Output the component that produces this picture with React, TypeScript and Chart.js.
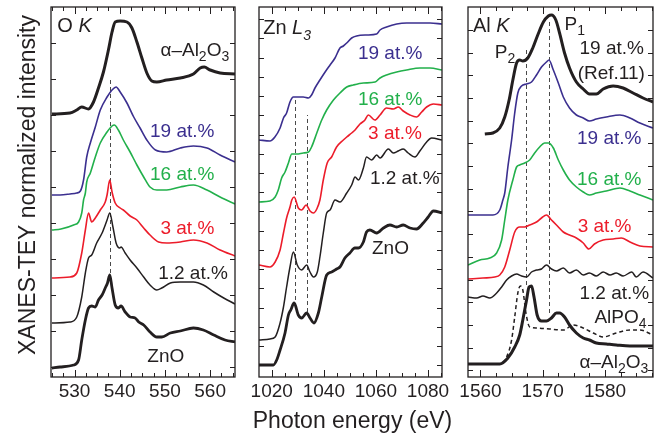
import React, { useEffect, useRef } from 'react';
import { Chart, registerables } from 'chart.js';

Chart.register(...registerables);

type P = [number, number][];

// ---------- O K edge (photon energy eV, normalized intensity + offset) ----------
const oK_Al2O3: P = [[525.0,26.3],[529.0,26.4],[530.5,26.7],[531.6,27.0],[533.1,26.8],[534.2,27.5],[535.3,28.9],[536.4,30.5],[537.5,32.7],[538.3,34.5],[539.0,35.5],[540.1,35.6],[541.6,35.5],[542.7,34.9],[543.8,33.5],[544.9,31.9],[546.0,30.4],[547.1,29.6],[548.2,29.5],[550.4,29.7],[553.4,29.9],[556.3,30.3],[557.8,30.9],[558.7,31.0],[560.0,30.7],[562.2,30.4],[565.5,30.3]];
const oK_19: P = [[525.0,18.2],[526.8,18.2],[529.0,18.3],[530.5,18.4],[531.3,18.6],[532.0,19.7],[532.7,22.0],[533.5,23.4],[534.6,25.0],[535.7,26.7],[537.2,28.0],[538.3,28.7],[539.2,29.0],[540.1,28.5],[541.6,27.4],[543.1,26.0],[544.5,24.9],[546.0,23.7],[547.9,22.7],[550.4,22.5],[553.4,22.9],[556.3,23.1],[559.3,22.9],[562.2,22.2],[565.5,21.5]];
const oK_16: P = [[525.0,14.7],[527.0,14.8],[529.8,15.2],[530.9,15.5],[531.6,16.4],[532.0,17.7],[532.4,18.4],[532.7,19.5],[533.5,20.4],[534.6,22.0],[535.7,23.4],[537.2,24.5],[538.3,25.1],[538.8,25.2],[539.7,24.7],[540.8,23.7],[542.3,22.5],[543.8,21.2],[545.3,20.0],[546.7,19.0],[548.2,18.7],[550.4,18.7],[553.4,19.0],[556.3,19.2],[559.3,18.7],[562.2,18.0],[565.5,17.3]];
const oK_3: P = [[525.0,9.9],[529.0,10.0],[530.5,10.4],[531.6,12.4],[532.4,14.7],[533.1,16.4],[533.8,15.5],[534.6,15.9],[535.7,16.7],[536.8,17.5],[537.2,18.2],[537.8,19.7],[538.3,18.5],[539.0,17.4],[540.1,16.9],[540.8,16.7],[542.3,16.1],[543.8,15.7],[545.3,14.9],[546.7,14.2],[548.6,13.5],[550.4,13.4],[553.4,13.5],[556.3,13.7],[559.3,13.4],[562.2,12.7],[565.5,12.1]];
const oK_1p2: P = [[525.0,5.4],[529.0,5.5],[530.5,6.0],[531.6,8.0],[532.4,10.4],[533.1,11.9],[533.8,12.2],[534.9,13.4],[536.1,14.4],[537.2,15.7],[537.8,16.4],[538.5,15.0],[539.2,13.4],[540.0,12.9],[540.3,13.0],[541.2,12.4],[542.3,11.7],[543.8,10.9],[545.3,10.0],[546.7,9.2],[548.2,8.7],[549.3,8.9],[551.2,9.4],[553.4,9.5],[556.3,9.5],[558.5,9.2],[560.8,8.5],[563.0,7.9],[565.5,7.3]];
const oK_ZnO: P = [[525.0,0.9],[526.8,1.0],[529.8,1.2],[530.9,1.7],[531.6,3.7],[532.4,5.7],[533.1,6.9],[533.8,7.1],[534.6,7.0],[535.3,7.7],[536.1,8.2],[536.8,8.9],[537.3,9.4],[537.8,10.2],[538.3,8.9],[539.0,7.2],[539.7,6.9],[540.3,7.1],[541.2,6.5],[542.3,6.0],[543.4,5.9],[544.2,5.5],[545.3,5.2],[546.7,4.5],[548.2,4.0],[549.3,4.0],[551.2,4.4],[553.4,4.6],[556.3,4.9],[558.5,4.7],[560.8,4.2],[563.3,3.7],[565.5,3.5]];

// ---------- Zn L3 edge ----------
const zn_19: P = [[1015.1,23.7],[1019.3,23.6],[1021.2,24.0],[1023.2,24.9],[1024.5,25.9],[1025.7,26.4],[1027.0,27.5],[1028.3,28.0],[1030.2,28.0],[1032.1,28.0],[1034.1,27.9],[1035.3,28.2],[1036.6,28.9],[1038.5,29.7],[1040.5,30.5],[1042.4,31.2],[1044.3,31.9],[1046.2,32.9],[1047.5,33.1],[1048.8,33.4],[1050.7,33.9],[1052.6,34.1],[1056.4,34.2],[1060.3,34.3],[1061.6,34.7],[1064.1,35.0],[1068.0,35.3],[1071.8,35.4],[1076.9,35.4],[1080.8,35.4],[1085.4,35.3]];
const zn_16: P = [[1015.1,17.5],[1019.3,17.6],[1021.3,18.0],[1022.5,18.7],[1023.8,19.9],[1025.1,20.5],[1026.4,21.4],[1027.7,22.3],[1029.6,22.3],[1032.1,22.4],[1034.1,22.5],[1035.3,23.0],[1037.3,24.4],[1039.2,25.7],[1041.1,26.7],[1043.7,27.7],[1046.2,28.4],[1048.8,29.0],[1051.3,29.2],[1055.2,29.4],[1059.7,29.5],[1061.6,29.9],[1064.1,30.2],[1068.0,30.5],[1071.8,30.7],[1076.9,30.9],[1080.8,30.9],[1085.4,30.7]];
const zn_3: P = [[1015.1,11.2],[1019.3,11.0],[1021.3,11.5],[1023.2,12.7],[1024.5,14.4],[1025.7,15.9],[1027.0,17.0],[1027.7,17.7],[1028.6,18.0],[1030.2,16.9],[1031.5,16.7],[1033.2,17.2],[1034.7,16.6],[1036.0,16.4],[1037.3,16.8],[1038.5,17.7],[1039.8,19.7],[1041.3,21.4],[1043.0,22.0],[1044.9,23.0],[1047.5,23.7],[1048.8,24.0],[1050.7,24.4],[1052.0,24.7],[1053.9,25.3],[1055.8,25.7],[1057.1,26.2],[1059.6,25.7],[1061.6,26.2],[1064.1,26.9],[1066.7,26.8],[1068.6,27.0],[1070.5,26.6],[1073.1,26.2],[1075.6,26.0],[1077.6,26.5],[1079.5,27.0],[1082.1,27.3],[1085.4,27.2]];
const zn_1p2: P = [[1015.1,3.7],[1019.3,3.8],[1021.3,4.0],[1023.2,5.4],[1024.5,7.0],[1025.7,9.0],[1027.0,11.0],[1028.3,12.5],[1029.8,11.2],[1031.5,10.7],[1033.4,11.2],[1034.7,10.5],[1036.0,10.0],[1037.5,10.5],[1038.5,12.0],[1039.8,14.4],[1041.1,16.4],[1042.4,16.7],[1044.3,17.7],[1046.2,17.5],[1048.8,18.4],[1050.7,19.2],[1052.0,20.0],[1053.3,19.7],[1055.2,20.9],[1056.4,22.0],[1058.4,21.7],[1060.3,22.2],[1061.6,21.9],[1064.8,22.8],[1066.7,22.4],[1068.6,22.6],[1070.5,22.8],[1072.4,22.4],[1075.0,22.0],[1076.9,22.6],[1079.5,23.5],[1081.4,23.9],[1085.4,23.7]];
const zn_ZnO: P = [[1015.1,1.2],[1020.6,1.2],[1021.9,1.7],[1023.2,2.7],[1025.1,4.4],[1026.4,6.2],[1027.3,6.7],[1028.6,7.4],[1030.2,6.2],[1031.5,5.9],[1033.4,6.4],[1034.7,5.9],[1036.2,5.4],[1037.9,6.4],[1039.2,8.0],[1041.1,10.2],[1043.0,10.5],[1044.9,10.8],[1046.2,11.0],[1048.1,11.9],[1050.0,12.4],[1051.9,12.9],[1053.3,12.9],[1055.2,13.5],[1056.4,14.5],[1057.7,14.7],[1060.3,14.4],[1062.9,14.9],[1065.4,15.2],[1068.0,15.0],[1070.5,15.2],[1073.1,14.9],[1075.6,14.8],[1078.2,15.4],[1080.1,16.0],[1082.1,16.6],[1085.4,16.4]];

// ---------- Al K edge ----------
const al_ref: P = [[1560.7,24.3],[1562.0,24.4],[1563.1,24.9],[1563.9,26.0],[1564.6,27.7],[1565.2,29.7],[1565.8,31.4],[1566.3,31.7],[1566.8,31.6],[1567.6,31.9],[1568.4,32.9],[1569.2,34.2],[1570.1,35.5],[1570.9,36.1],[1571.4,36.2],[1572.1,35.7],[1572.7,34.4],[1573.5,32.4],[1574.3,30.9],[1575.4,29.5],[1576.5,28.8],[1577.5,28.3],[1578.6,28.3],[1579.7,28.8],[1581.3,29.1],[1582.9,28.9],[1584.5,28.4],[1586.1,27.9],[1587.7,27.5]];
const al_19: P = [[1558.0,16.2],[1560.4,16.2],[1562.0,16.2],[1563.1,16.7],[1563.6,17.7],[1563.9,18.4],[1564.4,21.0],[1565.0,23.7],[1565.5,26.4],[1566.0,28.4],[1566.6,29.1],[1567.4,29.3],[1568.2,29.5],[1569.0,30.2],[1569.8,31.0],[1570.6,31.5],[1571.0,31.7],[1571.7,30.7],[1572.5,29.4],[1573.3,28.0],[1574.3,26.9],[1575.4,26.2],[1576.5,25.9],[1577.5,25.6],[1578.6,25.8],[1580.2,26.0],[1582.4,26.2],[1584.0,25.9],[1585.6,25.4],[1587.7,24.9]];
const al_16: P = [[1558.0,11.2],[1559.9,11.7],[1561.5,11.9],[1562.6,12.4],[1563.4,13.7],[1563.9,15.7],[1564.4,17.7],[1565.2,19.7],[1565.8,21.0],[1566.3,21.2],[1567.1,21.4],[1567.9,21.7],[1568.7,22.4],[1569.5,23.0],[1570.3,23.4],[1570.9,23.4],[1571.7,22.9],[1572.5,21.7],[1573.3,20.7],[1574.3,19.7],[1575.4,19.0],[1576.5,18.5],[1577.5,18.2],[1578.6,18.4],[1580.2,18.6],[1582.4,18.9],[1584.0,18.6],[1585.6,18.2],[1587.7,17.7]];
const al_3: P = [[1558.0,9.8],[1560.4,9.9],[1562.3,10.0],[1563.1,10.2],[1563.9,11.0],[1564.7,12.7],[1565.5,14.5],[1566.3,15.0],[1567.1,15.0],[1567.9,15.2],[1569.0,15.5],[1569.8,15.9],[1570.6,16.2],[1571.4,15.7],[1572.2,15.2],[1573.3,14.5],[1574.3,14.2],[1575.4,13.9],[1576.5,13.4],[1577.4,12.8],[1578.3,13.3],[1579.7,13.7],[1581.3,13.8],[1582.6,13.9],[1584.0,13.5],[1585.6,13.1],[1587.7,13.0]];
const al_1p2: P = [[1558.0,8.0],[1559.4,7.9],[1560.4,8.1],[1561.5,7.9],[1562.6,8.4],[1563.4,9.0],[1564.2,9.7],[1565.0,10.1],[1565.8,10.3],[1566.6,10.1],[1567.4,10.0],[1568.2,10.5],[1569.0,10.7],[1569.8,10.8],[1570.6,11.2],[1571.4,10.8],[1572.2,10.6],[1573.3,10.9],[1574.3,10.4],[1575.4,10.7],[1576.5,10.2],[1577.5,10.4],[1578.6,10.1],[1579.7,10.5],[1580.8,10.2],[1581.8,10.4],[1582.9,10.1],[1584.3,10.5],[1585.0,10.0],[1586.1,10.5],[1587.7,9.9]];
const al_AlPO4: P = [[1558.0,1.3],[1563.1,1.3],[1564.2,2.0],[1565.0,3.7],[1565.5,6.0],[1566.0,8.4],[1566.4,9.1],[1566.8,8.7],[1567.3,6.4],[1567.9,5.0],[1569.0,4.9],[1571.1,4.8],[1573.3,4.7],[1574.9,5.2],[1576.5,4.9],[1578.1,4.4],[1579.7,4.0],[1581.8,4.4],[1584.0,4.7],[1585.6,4.7],[1587.7,4.2]];
const al_Al2O3: P = [[1558.0,1.3],[1563.1,1.3],[1564.4,1.9],[1565.5,3.0],[1566.3,4.2],[1566.8,5.7],[1567.4,7.7],[1567.8,9.0],[1568.2,9.1],[1568.6,8.0],[1569.1,6.2],[1569.8,5.6],[1570.6,5.6],[1571.4,5.9],[1572.2,6.4],[1572.7,6.4],[1573.5,6.0],[1574.3,5.2],[1575.4,4.4],[1576.5,3.9],[1577.5,3.7],[1578.6,3.4],[1580.2,3.3],[1581.8,3.2],[1584.0,3.1],[1586.1,3.1],[1587.7,3.1]];

// ---------- axis ticks ----------
const oK_ticks = [530, 540, 550, 560];
const zn_ticks = [1020, 1040, 1060, 1080];
const al_ticks = [1560, 1570, 1580];

const FONT = "'Liberation Sans', Arial, Helvetica, sans-serif";
const INK = '#231f20';
const PURPLE = '#3b2f8f';
const GREEN = '#22b04b';
const RED = '#ec1c2a';
const W = 662;
const H = 437;
const Y_MAX = 37;

type Seg = { t: string; sub?: boolean; it?: boolean };
type Label = { x: number; y: number; segs: Seg[]; color: string; size?: number };
type Series = { pts: P; color: string; width: number; dash?: number[] };
type PanelCfg = {
  left: number; right: number; xmin: number; xmax: number;
  major: number[]; minorStep: number; yTickStart: number; yTickStep: number;
  series: Series[]; vlines: { x: number; y0: number; y1: number }[];
  labels: Label[]; extra?: (ctx: CanvasRenderingContext2D, area: any) => void;
};

const s = (t: string): Seg => ({ t });
const sub = (t: string): Seg => ({ t, sub: true });
const it = (t: string): Seg => ({ t, it: true });

function drawRich(ctx: CanvasRenderingContext2D, x: number, yMid: number, segs: Seg[], color: string, size: number) {
  let cx = x;
  const base = yMid + size * 0.358;
  ctx.fillStyle = color;
  ctx.textBaseline = 'alphabetic';
  ctx.textAlign = 'left';
  for (const g of segs) {
    const fs = g.sub ? Math.round(size * 0.72) : size;
    ctx.font = `${g.it ? 'italic ' : ''}${fs}px ${FONT}`;
    ctx.fillText(g.t, cx, g.sub ? base + size * 0.28 : base);
    cx += ctx.measureText(g.t).width;
  }
}

function makePlugin(cfg: PanelCfg) {
  return {
    id: 'panelDeco',
    beforeDatasetsDraw(chart: any) {
      const ctx: CanvasRenderingContext2D = chart.ctx;
      const xs = chart.scales.x, ys = chart.scales.y;
      ctx.save();
      ctx.strokeStyle = '#4a4a4a';
      ctx.lineWidth = 1;
      ctx.setLineDash([4, 3]);
      for (const v of cfg.vlines) {
        const px = Math.round(xs.getPixelForValue(v.x)) + 0.5;
        ctx.beginPath();
        ctx.moveTo(px, ys.getPixelForValue(v.y0));
        ctx.lineTo(px, ys.getPixelForValue(v.y1));
        ctx.stroke();
      }
      ctx.restore();
    },
    afterDraw(chart: any) {
      const ctx: CanvasRenderingContext2D = chart.ctx;
      const a = chart.chartArea;
      const xs = chart.scales.x, ys = chart.scales.y;
      ctx.save();
      ctx.strokeStyle = INK;
      ctx.lineWidth = 1.3;
      ctx.setLineDash([]);
      ctx.strokeRect(a.left, a.top, a.right - a.left, a.bottom - a.top);
      ctx.lineWidth = 1;
      ctx.beginPath();
      const first = Math.ceil(cfg.xmin / cfg.minorStep) * cfg.minorStep;
      for (let v = first; v <= cfg.xmax + 1e-9; v += cfg.minorStep) {
        const px = Math.round(xs.getPixelForValue(v)) + 0.5;
        const len = cfg.major.some((m) => Math.abs(m - v) < 1e-6) ? 7 : 4;
        ctx.moveTo(px, a.bottom); ctx.lineTo(px, a.bottom - len);
        ctx.moveTo(px, a.top); ctx.lineTo(px, a.top + len);
      }
      for (let v = cfg.yTickStart; v < Y_MAX - 0.3; v += cfg.yTickStep) {
        const py = Math.round(ys.getPixelForValue(v)) + 0.5;
        ctx.moveTo(a.left, py); ctx.lineTo(a.left + 5, py);
        ctx.moveTo(a.right, py); ctx.lineTo(a.right - 5, py);
      }
      ctx.stroke();
      for (const l of cfg.labels) {
        drawRich(ctx, xs.getPixelForValue(l.x), ys.getPixelForValue(l.y), l.segs, l.color, l.size ?? 19);
      }
      if (cfg.extra) cfg.extra(ctx, a);
      ctx.restore();
    },
  };
}

const panels: PanelCfg[] = [
  {
    left: 51, right: 235, xmin: 524.8, xmax: 565.5, major: oK_ticks, minorStep: 2.5,
    yTickStart: 1.0, yTickStep: 3.6,
    series: [
      { pts: oK_Al2O3, color: INK, width: 3 },
      { pts: oK_19, color: PURPLE, width: 1.6 },
      { pts: oK_16, color: GREEN, width: 1.6 },
      { pts: oK_3, color: RED, width: 1.6 },
      { pts: oK_1p2, color: INK, width: 1.5 },
      { pts: oK_ZnO, color: INK, width: 2.8 },
    ],
    vlines: [{ x: 537.8, y0: 10.4, y1: 29.9 }],
    labels: [
      { x: 526.2, y: 35.2, segs: [s('O '), it('K')], color: INK, size: 20 },
      { x: 549.0, y: 32.8, segs: [s('α–Al'), sub('2'), s('O'), sub('3')], color: INK },
      { x: 546.7, y: 24.7, segs: [s('19 at.%')], color: PURPLE },
      { x: 546.7, y: 20.4, segs: [s('16 at.%')], color: GREEN },
      { x: 549.0, y: 15.0, segs: [s('3 at.%')], color: RED },
      { x: 548.5, y: 10.5, segs: [s('1.2 at.%')], color: INK },
      { x: 546.1, y: 2.2, segs: [s('ZnO')], color: INK },
    ],
    extra: (ctx, a) => {
      ctx.save();
      ctx.translate(a.left - 16, (a.top + a.bottom) / 2 - 7);
      ctx.rotate(-Math.PI / 2);
      ctx.font = `23px ${FONT}`;
      ctx.fillStyle = INK;
      ctx.textAlign = 'center';
      ctx.textBaseline = 'alphabetic';
      ctx.fillText('XANES-TEY normalized intensity', 0, 0);
      ctx.restore();
    },
  },
  {
    left: 259, right: 442, xmin: 1015.1, xmax: 1085.4, major: zn_ticks, minorStep: 5,
    yTickStart: 1.17, yTickStep: 1.923,
    series: [
      { pts: zn_19, color: PURPLE, width: 1.6 },
      { pts: zn_16, color: GREEN, width: 1.6 },
      { pts: zn_3, color: RED, width: 1.6 },
      { pts: zn_1p2, color: INK, width: 1.5 },
      { pts: zn_ZnO, color: INK, width: 2.8 },
    ],
    vlines: [{ x: 1028.9, y0: 7.0, y1: 27.9 }, { x: 1033.4, y0: 6.5, y1: 26.2 }],
    labels: [
      { x: 1016.7, y: 35.0, segs: [s('Zn '), it('L'), { t: '3', sub: true, it: true }], color: INK, size: 20 },
      { x: 1053.1, y: 32.5, segs: [s('19 at.%')], color: PURPLE },
      { x: 1053.1, y: 27.9, segs: [s('16 at.%')], color: GREEN },
      { x: 1057.0, y: 24.5, segs: [s('3 at.%')], color: RED },
      { x: 1057.7, y: 20.0, segs: [s('1.2 at.%')], color: INK },
      { x: 1058.5, y: 13.0, segs: [s('ZnO')], color: INK },
    ],
    extra: (ctx, a) => {
      ctx.font = `23px ${FONT}`;
      ctx.fillStyle = INK;
      ctx.textAlign = 'center';
      ctx.textBaseline = 'alphabetic';
      ctx.fillText('Photon energy (eV)', (a.left + a.right) / 2 + 2, a.bottom + 51);
    },
  },
  {
    left: 468, right: 653, xmin: 1558.0, xmax: 1587.7, major: al_ticks, minorStep: 2.5,
    yTickStart: 0.67, yTickStep: 2.27,
    series: [
      { pts: al_ref, color: INK, width: 3 },
      { pts: al_19, color: PURPLE, width: 1.6 },
      { pts: al_16, color: GREEN, width: 1.6 },
      { pts: al_3, color: RED, width: 1.6 },
      { pts: al_1p2, color: INK, width: 1.5 },
      { pts: al_AlPO4, color: INK, width: 1.5, dash: [4, 3] },
      { pts: al_Al2O3, color: INK, width: 3 },
    ],
    vlines: [{ x: 1567.3, y0: 9.2, y1: 32.7 }, { x: 1571.0, y0: 6.4, y1: 35.5 }],
    labels: [
      { x: 1558.8, y: 35.2, segs: [s('Al '), it('K')], color: INK, size: 20 },
      { x: 1573.5, y: 35.4, segs: [s('P'), sub('1')], color: INK },
      { x: 1562.3, y: 32.6, segs: [s('P'), sub('2')], color: INK },
      { x: 1575.9, y: 33.0, segs: [s('19 at.%')], color: INK },
      { x: 1575.6, y: 30.5, segs: [s('(Ref.11)')], color: INK },
      { x: 1575.5, y: 24.0, segs: [s('19 at.%')], color: PURPLE },
      { x: 1575.5, y: 19.9, segs: [s('16 at.%')], color: GREEN },
      { x: 1575.6, y: 15.2, segs: [s('3 at.%')], color: RED },
      { x: 1575.9, y: 8.5, segs: [s('1.2 at.%')], color: INK },
      { x: 1578.3, y: 6.1, segs: [s('AlPO'), sub('4')], color: INK },
      { x: 1575.9, y: 1.6, segs: [s('α–Al'), sub('2'), s('O'), sub('3')], color: INK },
    ],
  },
];

function Panel({ cfg }: { cfg: PanelCfg }) {
  const ref = useRef<HTMLCanvasElement | null>(null);
  useEffect(() => {
    if (!ref.current) return;
    const chart = new Chart(ref.current, {
      type: 'line',
      data: {
        datasets: cfg.series.map((sr) => ({
          data: sr.pts.map(([x, y]) => ({ x, y })),
          borderColor: sr.color,
          borderWidth: sr.width,
          borderDash: sr.dash ?? [],
          pointRadius: 0,
          fill: false,
          cubicInterpolationMode: 'monotone' as const,
          borderJoinStyle: 'round' as const,
        })),
      },
      options: {
        animation: false,
        responsive: false,
        maintainAspectRatio: false,
        events: [],
        layout: { padding: { left: cfg.left, right: W - cfg.right, top: 7, bottom: 20 } },
        plugins: { legend: { display: false }, tooltip: { enabled: false }, title: { display: false } },
        scales: {
          x: {
            type: 'linear',
            min: cfg.xmin,
            max: cfg.xmax,
            grid: { display: false, drawTicks: false },
            border: { display: false },
            ticks: {
              font: { family: FONT, size: 19 },
              color: INK,
              padding: 3,
              maxRotation: 0,
              autoSkip: false,
              callback: (v: any) => String(v),
            },
            afterBuildTicks: (sc: any) => { sc.ticks = cfg.major.map((v) => ({ value: v })); },
            afterFit: (sc: any) => { sc.height = 40; },
          },
          y: { type: 'linear', display: false, min: 0, max: Y_MAX },
        },
      },
      plugins: [makePlugin(cfg)],
    } as any);
    return () => chart.destroy();
  }, [cfg]);
  return (
    <canvas
      ref={ref}
      width={W}
      height={H}
      style={{ position: 'absolute', left: 0, top: 0, width: W, height: H }}
    />
  );
}

export default function App() {
  return (
    <div style={{ position: 'fixed', left: 0, top: 0, width: W, height: H, background: '#fff', overflow: 'hidden' }}>
      {panels.map((p, i) => (
        <Panel key={i} cfg={p} />
      ))}
    </div>
  );
}
